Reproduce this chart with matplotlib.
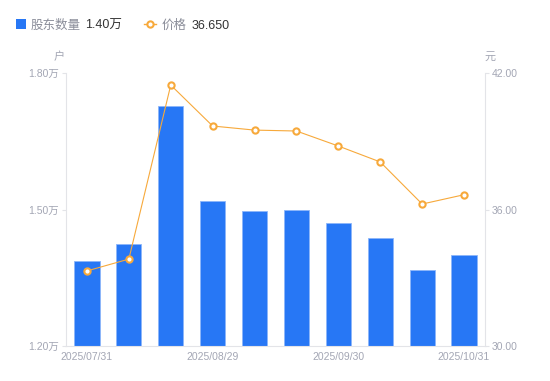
import numpy as np
import matplotlib.pyplot as plt
from matplotlib.lines import Line2D
from matplotlib.patches import Rectangle

plt.rcParams['font.family'] = ['Liberation Sans', 'Noto Sans CJK SC', 'DejaVu Sans']

dates = ["2025/07/31", "2025/08/11", "2025/08/20", "2025/08/29", "2025/09/10",
         "2025/09/19", "2025/09/30", "2025/10/10", "2025/10/20", "2025/10/31"]
holders = [1.387, 1.424, 1.728, 1.519, 1.497, 1.499, 1.470, 1.437, 1.367, 1.400]  # 万户
price = [33.30, 33.82, 41.47, 39.67, 39.49, 39.45, 38.79, 38.09, 36.24, 36.65]
left_ticks = [1.20, 1.50, 1.80]
right_ticks = [30.0, 36.0, 42.0]

blue = "#2777F5"
orange = "#F7A93B"
grey_txt = "#A3A6B4"
axis_col = "#E3E4E8"

fig = plt.figure(figsize=(5.5, 3.81), dpi=100)
ax = fig.add_axes([66/550, 1-346/381, 419/550, 273/381])
ax2 = ax.twinx()

x = np.arange(len(dates))
ax.bar(x, holders, width=0.6, color=blue, edgecolor="#8DB6FA", linewidth=0.6, zorder=2)
ax.set_xlim(-0.5, len(dates)-0.5)
ax.set_ylim(left_ticks[0], left_ticks[-1])
ax.set_yticks(left_ticks)
ax.set_yticklabels([f"{v:.2f}万" for v in left_ticks])
ax.set_xticks(x[::3])
ax.set_xticklabels(dates[::3])

ax2.plot(x, price, color=orange, lw=0.8, marker="o", ms=4.5, mfc="white",
         mec=orange, mew=1.5, zorder=3)
ax2.set_ylim(right_ticks[0], right_ticks[-1])
ax2.set_yticks(right_ticks)
ax2.set_yticklabels([f"{v:.2f}" for v in right_ticks])

for a in (ax, ax2):
    for s in a.spines.values():
        s.set_visible(False)
    a.tick_params(labelsize=7.5, colors=grey_txt, length=3, width=0.8, color=axis_col, pad=2)
ax.spines['left'].set_visible(True)
ax.spines['left'].set_color(axis_col)
ax.spines['bottom'].set_visible(True)
ax.spines['bottom'].set_color(axis_col)
ax2.spines['right'].set_visible(True)
ax2.spines['right'].set_color(axis_col)
ax.tick_params(axis='x', length=0, pad=4)

fig.text(59/550, 1-57/381, "户", ha="center", va="center", fontsize=8, color=grey_txt)
fig.text(490/550, 1-57/381, "元", ha="center", va="center", fontsize=8, color=grey_txt)

# legend
ly = 1-24/381
ty = 1-26/381
fig.patches.append(Rectangle((16/550, 1-29/381), 10/550, 10/381, transform=fig.transFigure,
                             facecolor=blue, edgecolor="none"))
fig.text(31/550, ty, "股东数量", ha="left", va="center", fontsize=9, color="#8A8D99")
fig.text(85/550, ty, f"{holders[-1]:.2f}万", ha="left", va="center", fontsize=9, color="#333333")
fig.lines.append(Line2D([144/550, 156/550], [ly, ly], transform=fig.transFigure, color=orange,
                        lw=1))
fig.lines.append(Line2D([150/550], [ly], transform=fig.transFigure, color=orange, marker="o",
                        ms=4.5, mfc="white", mec=orange, mew=1.5))
fig.text(162/550, ty, "价格", ha="left", va="center", fontsize=9, color="#8A8D99")
fig.text(192/550, ty, f"{price[-1]:.3f}", ha="left", va="center", fontsize=9, color="#333333")

fig.savefig("out.png", dpi=100)
